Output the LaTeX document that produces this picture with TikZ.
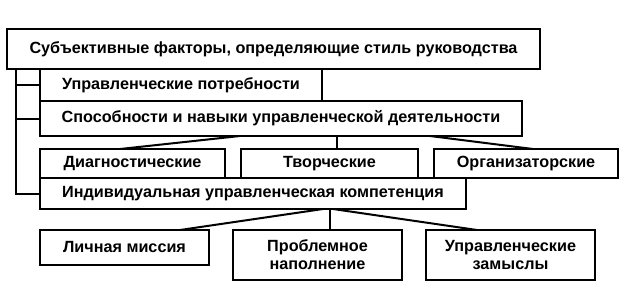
\documentclass[tikz,border=0pt]{standalone}
\usepackage{fontspec}
\setmainfont{Liberation Sans}
\usepackage{tikz}
\usetikzlibrary{positioning, calc}

\begin{document}
\begin{tikzpicture}[
  x=1pt, y=-1pt,
  fbox/.style={draw, fill=white, line width=2pt, outer sep=0pt, inner sep=0pt, align=center, font=\fontsize{16.2}{18}\selectfont\bfseries},
  link/.style={line width=2pt}
]
  \useasboundingbox (0, 0) rectangle (624, 303);

  \node[fbox, minimum width=533pt, minimum height=40pt] (top) at (273.5, 49) {Субъективные факторы, определяющие стиль руководства};
  \node[fbox, minimum width=282pt, minimum height=32pt] (need) at (181, 85) {Управленческие потребности};
  \node[fbox, minimum width=482pt, minimum height=35pt] (skills) at (281, 118.5) {Способности и навыки управленческой деятельности};

  \node[fbox, minimum width=426pt, minimum height=31pt] (comp) at (253, 193.5) {Индивидуальная управленческая компетенция};
  \node[fbox, minimum width=185pt, minimum height=29pt] (diag) at (132.5, 163.5) {Диагностические};
  \node[fbox, minimum width=177pt, minimum height=29pt] (creat) at (329.5, 163.5) {Творческие};
  \node[fbox, minimum width=184pt, minimum height=29pt] (org) at (526, 163.5) {Организаторские};

  \node[fbox, minimum width=169pt, minimum height=35pt] (mission) at (124.5, 247.5) {Личная миссия};
  \node[fbox, minimum width=169pt, minimum height=50pt] (content) at (317.5, 255) {Проблемное\\наполнение};
  \node[fbox, minimum width=169pt, minimum height=50pt] (ideas) at (510.5, 255) {Управленческие\\замыслы};

  \coordinate (trunk) at ([xshift=9pt]top.south west);
  \draw[link] (trunk) |- (comp.west);
  \draw[link] (trunk |- need.west) -- (need.west);
  \draw[link] (trunk |- skills.west) -- (skills.west);

  \draw[link] ([xshift=200pt]skills.south west) -- ([xshift=80pt]diag.north west);
  \draw[link] ([xshift=297pt]skills.south west) -- ([xshift=96pt]creat.north west);
  \draw[link] ([xshift=390pt]skills.south west) -- ([xshift=99pt]org.north west);

  \draw[link] ([xshift=283pt]comp.south west) -- ([xshift=140pt]mission.north west);
  \draw[link] ([xshift=290pt]comp.south west) -- ([xshift=97pt]content.north west);
  \draw[link] ([xshift=293pt]comp.south west) -- ([xshift=51pt]ideas.north west);
\end{tikzpicture}
\end{document}
